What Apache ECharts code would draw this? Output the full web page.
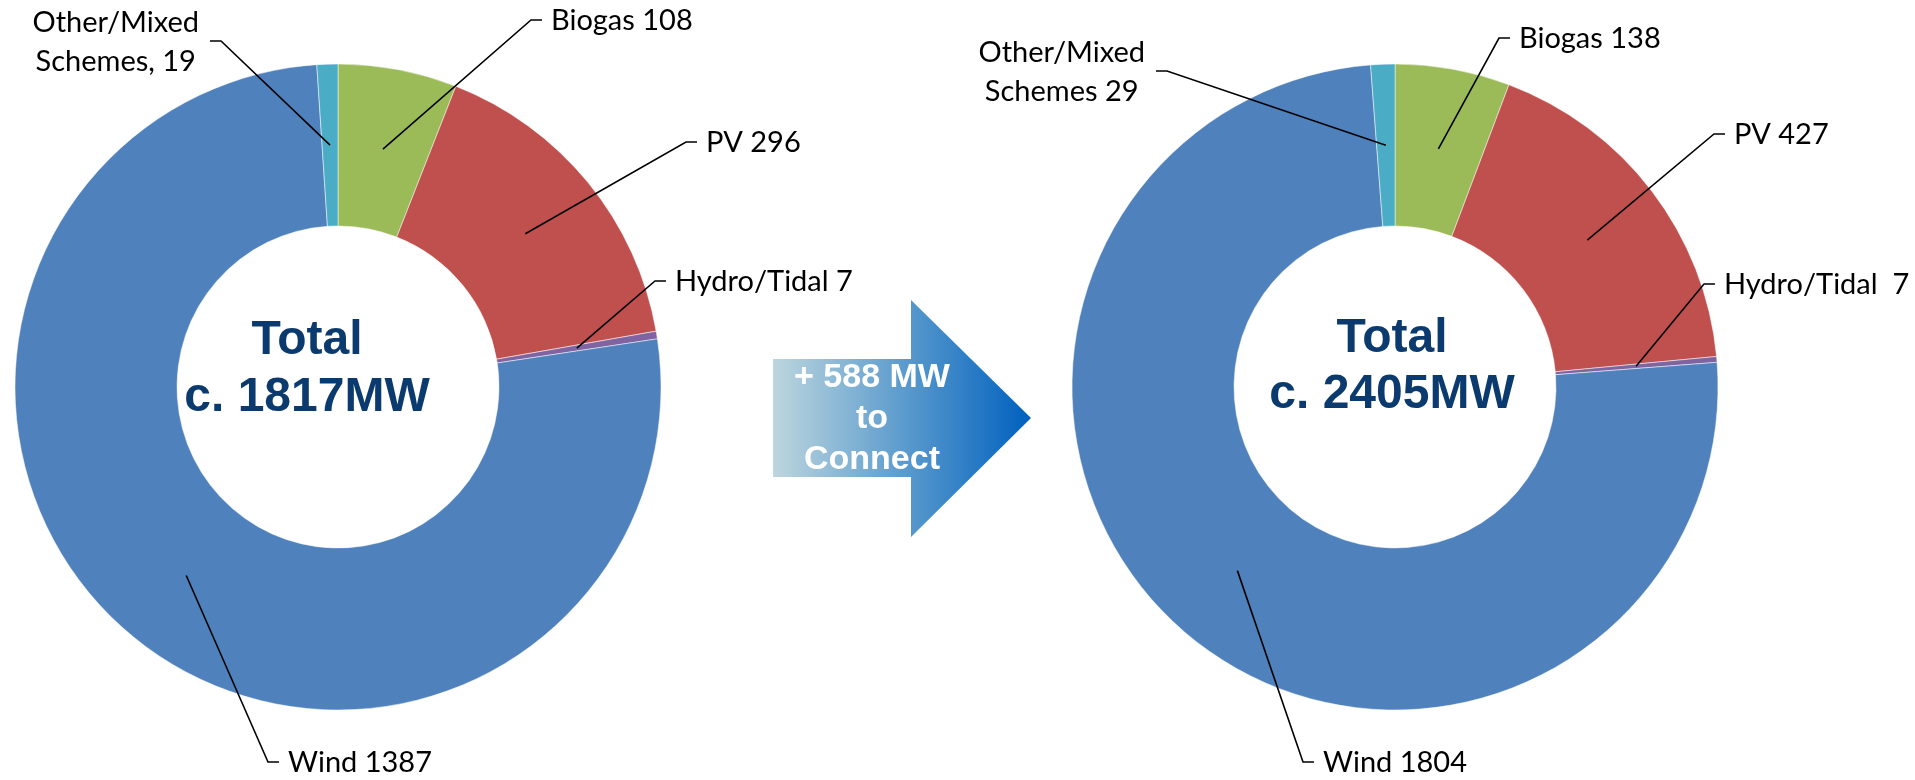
<!DOCTYPE html>
<html><head><meta charset="utf-8">
<script src="https://cdn.jsdelivr.net/npm/echarts@6/dist/echarts.min.js"></script>
<style>html,body{margin:0;padding:0;background:#fff}#c{width:1915px;height:780px}</style>
</head><body><div id="c"></div>
<script>
// ---- data ----
const categories = ['Biogas', 'PV', 'Hydro/Tidal', 'Wind', 'Other/Mixed\nSchemes'];
const currentMW = [108, 296, 7, 1387, 19];
const futureMW = [138, 427, 7, 1804, 29];
const currentSep = [' ', ' ', ' ', ' ', ', '];
const futureSep = [' ', ' ', '  ', ' ', ' '];
const currentTotalText = ['Total', 'c. 1817MW'];
const futureTotalText = ['Total', 'c. 2405MW'];
const arrowText = ['+ 588 MW', 'to', 'Connect'];

// ---- style / layout ----
const colors = ['#9BBB59', '#C0504D', '#8064A2', '#4F81BD', '#4BACC6'];
const CENTERS = [[338, 387], [1395, 387]];
const R_IN = 161, R_OUT = 323;
const LABEL_POS = [
  [{x: 551, y: 21, side: 'r'}, {x: 706, y: 143, side: 'r'}, {x: 675, y: 282, side: 'r'}, {x: 288, y: 763, side: 'r'}, {x: 199, y: 42, side: 'l'}],
  [{x: 1519, y: 39, side: 'r'}, {x: 1734, y: 135, side: 'r'}, {x: 1724, y: 285, side: 'r'}, {x: 1323, y: 763, side: 'r'}, {x: 1145, y: 72, side: 'l'}]
];
const SERIES_VALUES = [currentMW, futureMW];
const SEPS = [currentSep, futureSep];

function leaderPoints(s, i) {
  const vals = SERIES_VALUES[s];
  const total = vals.reduce((a, b) => a + b, 0);
  let cum = 0;
  for (let k = 0; k < i; k++) cum += vals[k];
  const ang = (cum + vals[i] / 2) / total * Math.PI * 2;
  const rm = (R_IN + R_OUT) / 2;
  const c = CENTERS[s];
  const start = [c[0] + rm * Math.sin(ang), c[1] - rm * Math.cos(ang)];
  const lp = LABEL_POS[s][i];
  const dir = lp.side === 'r' ? -1 : 1;
  const gap = lp.side === 'r' ? 9 : 11;
  const end = [lp.x + dir * gap, lp.y - 1];
  const elbow = [end[0] + dir * 11, lp.y - 1];
  return [start, elbow, end];
}

function makeLayout(s) {
  return function (params) {
    const lp = LABEL_POS[s][params.dataIndex];
    if (lp.side === 'r') {
      return {x: lp.x, y: lp.y, align: 'left', verticalAlign: 'middle'};
    }
    const w = params.labelRect ? params.labelRect.width : 0;
    return {x: lp.x - w / 2, y: lp.y, align: 'center', verticalAlign: 'middle'};
  };
}

function makeSeries(s) {
  return {
    type: 'pie',
    center: CENTERS[s],
    radius: [R_IN, R_OUT],
    startAngle: 90,
    clockwise: true,
    avoidLabelOverlap: false,
    silent: true,
    animation: false,
    color: colors,
    itemStyle: {borderColor: '#ffffff', borderWidth: 0.5},
    emphasis: {disabled: true},
    data: categories.map((n, i) => ({name: n, value: SERIES_VALUES[s][i]})),
    label: {
      show: true,
      position: 'outside',
      formatter: p => p.name + SEPS[s][p.dataIndex] + p.value,
      color: '#000',
      fontFamily: 'Lato',
      fontSize: 29,
      lineHeight: 39
    },
    labelLine: {show: false},
    labelLayout: makeLayout(s)
  };
}

const leaderLines = [];
for (let s = 0; s < 2; s++) {
  for (let i = 0; i < categories.length; i++) {
    leaderLines.push({
      type: 'polyline', silent: true, z: 10,
      shape: {points: leaderPoints(s, i)},
      style: {stroke: '#000', lineWidth: 1.6, fill: null}
    });
  }
}

const titleFont = 'bold 48px "Liberation Sans", Arial, sans-serif';
const arrowFont = 'bold 34px "Liberation Sans", Arial, sans-serif';
const chart = echarts.init(document.getElementById('c'), null, {renderer: 'canvas'});
chart.setOption({
  backgroundColor: '#ffffff',
  animation: false,
  series: [makeSeries(0), makeSeries(1)],
  graphic: leaderLines.concat([
    {
      type: 'polygon',
      shape: {points: [[773, 359], [911, 359], [911, 300], [1031, 418], [911, 537], [911, 477], [773, 477]]},
      style: {
        fill: {type: 'linear', x: 0, y: 0, x2: 1, y2: 0, colorStops: [
          {offset: 0, color: '#BDD6DE'}, {offset: 0.54, color: '#5597CC'}, {offset: 1, color: '#0060BE'}]}
      },
      silent: true
    },
    {type: 'text', x: 872, y: 378, silent: true, style: {text: arrowText[0], fill: '#fff', font: arrowFont, align: 'center', verticalAlign: 'middle'}},
    {type: 'text', x: 872, y: 419, silent: true, style: {text: arrowText[1], fill: '#fff', font: arrowFont, align: 'center', verticalAlign: 'middle'}},
    {type: 'text', x: 872, y: 460, silent: true, style: {text: arrowText[2], fill: '#fff', font: arrowFont, align: 'center', verticalAlign: 'middle'}},
    {type: 'text', x: 307, y: 341, silent: true, style: {text: currentTotalText[0], fill: '#0B3A6F', font: titleFont, align: 'center', verticalAlign: 'middle'}},
    {type: 'text', x: 307, y: 398, silent: true, style: {text: currentTotalText[1], fill: '#0B3A6F', font: titleFont, align: 'center', verticalAlign: 'middle'}},
    {type: 'text', x: 1392, y: 339, silent: true, style: {text: futureTotalText[0], fill: '#0B3A6F', font: titleFont, align: 'center', verticalAlign: 'middle'}},
    {type: 'text', x: 1392, y: 395, silent: true, style: {text: futureTotalText[1], fill: '#0B3A6F', font: titleFont, align: 'center', verticalAlign: 'middle'}}
  ])
});
</script>
</body></html>
